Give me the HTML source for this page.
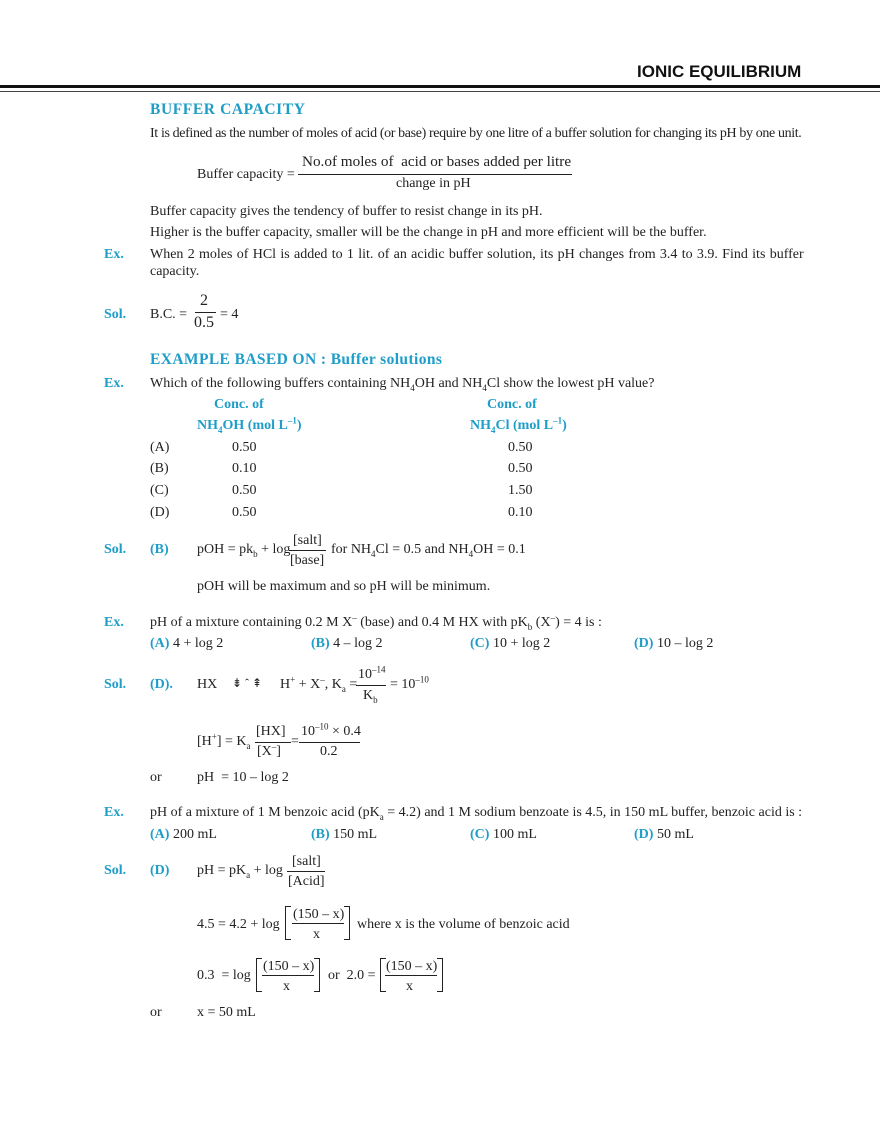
<!DOCTYPE html>
<html><head><meta charset="utf-8"><style>
body{margin:0;width:880px;height:1139px;background:#fff;position:relative;overflow:hidden;font-family:"Liberation Serif",serif;color:#222}
.t{position:absolute;white-space:nowrap;font-size:14px;line-height:14px}
.b{color:#1e9dc8;font-weight:bold}
.h{color:#1e9dc8;font-weight:bold;font-size:15.5px;letter-spacing:0.6px}
.ln{position:absolute;height:1px;background:#222}
.br{position:absolute;border:1px solid #222;border-top-width:1px}
.brl{border-right:none;width:5px}
.brr{border-left:none;width:5px}
sub,sup{font-size:9px;line-height:0}
.c{text-align:center}
</style></head><body>
<div class="t" style="left:637px;top:63px;font-family:'Liberation Sans',sans-serif;font-weight:bold;font-size:17px;line-height:18px;color:#111">IONIC EQUILIBRIUM</div>
<div style="position:absolute;left:0;top:85px;width:880px;height:3px;background:#111"></div>
<div style="position:absolute;left:0;top:91px;width:880px;height:1px;background:#444"></div>

<div class="t h" style="left:150px;top:103px">BUFFER CAPACITY</div>
<div class="t" style="left:150px;top:127px;letter-spacing:-0.37px">It is defined as the number of moles of acid (or base) require by one litre of a buffer solution for changing its pH by one unit.</div>
<div class="t" style="left:197px;top:168px">Buffer capacity =</div>
<div class="t" style="left:302px;top:155px;font-size:15.2px">No.of moles of &nbsp;acid or bases added per litre</div>
<div class="ln" style="left:298px;top:174px;width:274px"></div>
<div class="t" style="left:396px;top:177px">change in pH</div>
<div class="t" style="left:150px;top:205px">Buffer capacity gives the tendency of buffer to resist change in its pH.</div>
<div class="t" style="left:150px;top:226px">Higher is the buffer capacity, smaller will be the change in pH and more efficient will be the buffer.</div>
<div class="t b" style="left:104px;top:248px">Ex.</div>
<div class="t" style="left:150px;top:248px;word-spacing:0.8px">When 2 moles of HCl is added to 1 lit. of an acidic buffer solution, its pH changes from 3.4 to 3.9. Find its buffer</div>
<div class="t" style="left:150px;top:265px">capacity.</div>
<div class="t b" style="left:104px;top:308px">Sol.</div>
<div class="t" style="left:150px;top:308px">B.C. =</div>
<div class="t" style="left:200px;top:294px;font-size:16px">2</div>
<div class="ln" style="left:195px;top:312px;width:21px"></div>
<div class="t" style="left:194px;top:316px;font-size:16px">0.5</div>
<div class="t" style="left:220px;top:308px">= 4</div>

<div class="t h" style="left:150px;top:353px;letter-spacing:0.4px">EXAMPLE BASED ON : Buffer solutions</div>
<div class="t b" style="left:104px;top:377px">Ex.</div>
<div class="t" style="left:150px;top:377px">Which of the following buffers containing NH<sub>4</sub>OH and NH<sub>4</sub>Cl show the lowest pH value?</div>
<div class="t b" style="left:214px;top:398px">Conc. of</div>
<div class="t b" style="left:487px;top:398px">Conc. of</div>
<div class="t b" style="left:197px;top:419px">NH<sub>4</sub>OH (mol L<sup>–1</sup>)</div>
<div class="t b" style="left:470px;top:419px">NH<sub>4</sub>Cl (mol L<sup>–1</sup>)</div>
<div class="t" style="left:150px;top:441px">(A)</div><div class="t" style="left:232px;top:441px">0.50</div><div class="t" style="left:508px;top:441px">0.50</div>
<div class="t" style="left:150px;top:462px">(B)</div><div class="t" style="left:232px;top:462px">0.10</div><div class="t" style="left:508px;top:462px">0.50</div>
<div class="t" style="left:150px;top:484px">(C)</div><div class="t" style="left:232px;top:484px">0.50</div><div class="t" style="left:508px;top:484px">1.50</div>
<div class="t" style="left:150px;top:506px">(D)</div><div class="t" style="left:232px;top:506px">0.50</div><div class="t" style="left:508px;top:506px">0.10</div>

<div class="t b" style="left:104px;top:543px">Sol.</div>
<div class="t b" style="left:150px;top:543px">(B)</div>
<div class="t" style="left:197px;top:543px">pOH = pk<sub>b</sub> + log</div>
<div class="t" style="left:293px;top:534px">[salt]</div>
<div class="ln" style="left:289px;top:550px;width:37px"></div>
<div class="t" style="left:290px;top:554px">[base]</div>
<div class="t" style="left:331px;top:543px">for NH<sub>4</sub>Cl = 0.5 and NH<sub>4</sub>OH = 0.1</div>
<div class="t" style="left:197px;top:580px">pOH will be maximum and so pH will be minimum.</div>

<div class="t b" style="left:104px;top:616px">Ex.</div>
<div class="t" style="left:150px;top:616px">pH of a mixture containing 0.2 M X<sup>–</sup> (base) and 0.4 M HX with pK<sub>b</sub> (X<sup>–</sup>) = 4 is :</div>
<div class="t" style="left:150px;top:637px"><span class="b">(A)</span> 4 + log 2</div>
<div class="t" style="left:311px;top:637px"><span class="b">(B)</span> 4 – log 2</div>
<div class="t" style="left:470px;top:637px"><span class="b">(C)</span> 10 + log 2</div>
<div class="t" style="left:634px;top:637px"><span class="b">(D)</span> 10 – log 2</div>

<div class="t b" style="left:104px;top:678px">Sol.</div>
<div class="t b" style="left:150px;top:678px">(D).</div>
<div class="t" style="left:197px;top:678px">HX</div>
<div class="t" style="left:232px;top:676px;font-size:12px">⇟ ˆ ⇞</div>
<div class="t" style="left:280px;top:678px">H<sup>+</sup> + X<sup>–</sup>, K<sub>a</sub> =</div>
<div class="t" style="left:358px;top:668px">10<sup>–14</sup></div>
<div class="ln" style="left:356px;top:685px;width:30px"></div>
<div class="t" style="left:363px;top:689px">K<sub>b</sub></div>
<div class="t" style="left:390px;top:678px">= 10<sup>–10</sup></div>
<div class="t" style="left:197px;top:735px">[H<sup>+</sup>] = K<sub>a</sub></div>
<div class="t" style="left:256px;top:725px">[HX]</div>
<div class="ln" style="left:255px;top:742px;width:36px"></div>
<div class="t" style="left:257px;top:745px">[X<sup>–</sup>]</div>
<div class="t" style="left:291px;top:735px">=</div>
<div class="t" style="left:301px;top:725px">10<sup>–10</sup> × 0.4</div>
<div class="ln" style="left:299px;top:742px;width:61px"></div>
<div class="t" style="left:320px;top:745px">0.2</div>
<div class="t" style="left:150px;top:771px">or</div>
<div class="t" style="left:197px;top:771px">pH &nbsp;= 10 – log 2</div>

<div class="t b" style="left:104px;top:806px">Ex.</div>
<div class="t" style="left:150px;top:806px">pH of a mixture of 1 M benzoic acid (pK<sub>a</sub> = 4.2) and 1 M sodium benzoate is 4.5, in 150 mL buffer, benzoic acid is :</div>
<div class="t" style="left:150px;top:828px"><span class="b">(A)</span> 200 mL</div>
<div class="t" style="left:311px;top:828px"><span class="b">(B)</span> 150 mL</div>
<div class="t" style="left:470px;top:828px"><span class="b">(C)</span> 100 mL</div>
<div class="t" style="left:634px;top:828px"><span class="b">(D)</span> 50 mL</div>

<div class="t b" style="left:104px;top:864px">Sol.</div>
<div class="t b" style="left:150px;top:864px">(D)</div>
<div class="t" style="left:197px;top:864px">pH = pK<sub>a</sub> + log</div>
<div class="t" style="left:292px;top:855px">[salt]</div>
<div class="ln" style="left:287px;top:871px;width:38px"></div>
<div class="t" style="left:288px;top:875px">[Acid]</div>

<div class="t" style="left:197px;top:918px">4.5 = 4.2 + log</div>
<div class="br brl" style="left:285px;top:906px;height:32px"></div>
<div class="t" style="left:293px;top:908px">(150 – x)</div>
<div class="ln" style="left:292px;top:923px;width:52px"></div>
<div class="t" style="left:313px;top:928px">x</div>
<div class="br brr" style="left:344px;top:906px;height:32px"></div>
<div class="t" style="left:357px;top:918px">where x is the volume of benzoic acid</div>

<div class="t" style="left:197px;top:969px">0.3 &nbsp;= log</div>
<div class="br brl" style="left:256px;top:958px;height:32px"></div>
<div class="t" style="left:263px;top:960px">(150 – x)</div>
<div class="ln" style="left:262px;top:975px;width:52px"></div>
<div class="t" style="left:283px;top:980px">x</div>
<div class="br brr" style="left:314px;top:958px;height:32px"></div>
<div class="t" style="left:328px;top:969px">or &nbsp;2.0 =</div>
<div class="br brl" style="left:380px;top:958px;height:32px"></div>
<div class="t" style="left:386px;top:960px">(150 – x)</div>
<div class="ln" style="left:385px;top:975px;width:52px"></div>
<div class="t" style="left:406px;top:980px">x</div>
<div class="br brr" style="left:437px;top:958px;height:32px"></div>

<div class="t" style="left:150px;top:1006px">or</div>
<div class="t" style="left:197px;top:1006px">x = 50 mL</div>
</body></html>
